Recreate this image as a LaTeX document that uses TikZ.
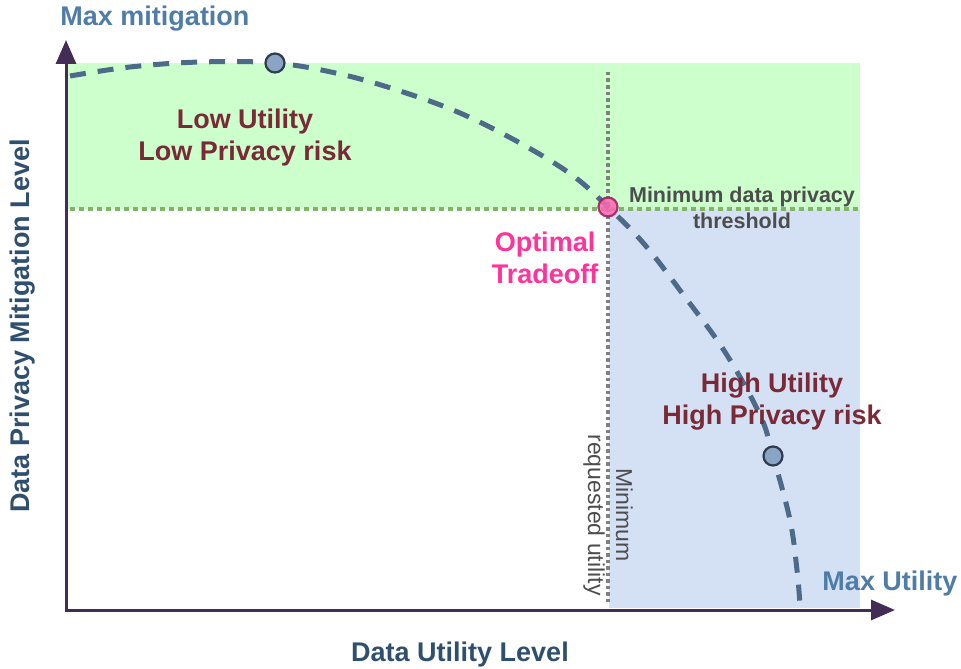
\documentclass[tikz,border=0pt]{standalone}
\usepackage{fontspec}
\setmainfont{Liberation Sans}
\usetikzlibrary{arrows.meta}
\definecolor{axiscol}{HTML}{432D57}
\definecolor{greenfill}{HTML}{CCFFCC}
\definecolor{bluefill}{HTML}{D4E1F5}
\definecolor{greendot}{HTML}{82B366}
\definecolor{curvecol}{HTML}{4E6A89}
\definecolor{ptfill}{HTML}{8AA4C4}
\definecolor{ptdraw}{HTML}{2E3C4E}
\definecolor{labblue}{HTML}{4F7DA6}
\definecolor{darkred}{HTML}{7A2A36}
\definecolor{pinkc}{HTML}{FF3399}
\definecolor{axislab}{HTML}{2F4F6F}
\definecolor{greytext}{HTML}{4D4D4D}
\begin{document}
\begin{tikzpicture}[x=1pt,y=-1pt,
  lab/.style={font=\bfseries\fontsize{27}{32}\selectfont, align=center, inner sep=0pt},
  smalllab/.style={font=\bfseries\fontsize{21.5}{26}\selectfont, align=center, inner sep=0pt, text=greytext},
  pt/.style={circle, draw=ptdraw, fill=ptfill, line width=2.2pt, minimum size=19pt, inner sep=0pt},
  axisline/.style={axiscol, line width=3pt, -{Triangle[length=24pt,width=20pt]}}]
\useasboundingbox (0,0) rectangle (961,669);
% regions
\fill[greenfill] (68,63) rectangle (860,209);
\fill[bluefill] (609,209) rectangle (860,608);
% threshold lines
\draw[greendot, line width=4.5pt, dash pattern=on 4.5pt off 4.5pt] (70,209) -- (860,209);
\draw[gray, line width=3.5pt, dash pattern=on 3.5pt off 3pt] (608,72) -- (608,602);
% axes
\coordinate (O) at (66,610);
\coordinate (Ytip) at (66,40);
\coordinate (Xtip) at (895,610);
\draw[axisline] (O) -- (Ytip);
\draw[axisline] (64.5,610) -- (Xtip);
% curve
\draw[curvecol, line width=5pt, dash pattern=on 16pt off 12pt]
  plot[smooth, tension=0.6] coordinates {(70,76) (130,67) (200,62) (275,63) (340,74) (400,91) (460,113) (520,143) (572,175) (608,207) (645,245) (685,297) (725,352) (760,415) (773,456) (790,520) (797,570) (800,605)};
% points
\node[pt] (p1) at (275,63) {};
\node[pt] (p2) at (773,456) {};
\node[circle, draw=pinkc!60!black, fill=pinkc!75!white, line width=2.2pt, minimum size=19pt, inner sep=0pt, opacity=0.85] (p3) at (608,207) {};
% labels
\node[lab, text=labblue] (maxmit) at (155,19) {Max mitigation};
\node[lab, text=labblue] (maxutil) at (890,584) {Max Utility};
\node[lab, text=darkred] (low) at (245,138) {Low Utility\\Low Privacy risk};
\node[lab, text=darkred] (high) at (772,402) {High Utility\\High Privacy risk};
\node[lab, text=pinkc] (opt) at (545,258) {Optimal\\Tradeoff};
\node[smalllab] (thr) at (742,208) {Minimum data privacy\\threshold};
\node[font=\fontsize{23}{28}\selectfont, align=center, inner sep=0pt, text=greytext, rotate=-90] (req) at (608,515) {Minimum\\requested utility};
\node[lab, text=axislab] (xl) at (460,655) {Data Utility Level};
\node[lab, text=axislab, rotate=90] (yl) at (23,326) {Data Privacy Mitigation Level};
\end{tikzpicture}
\end{document}
